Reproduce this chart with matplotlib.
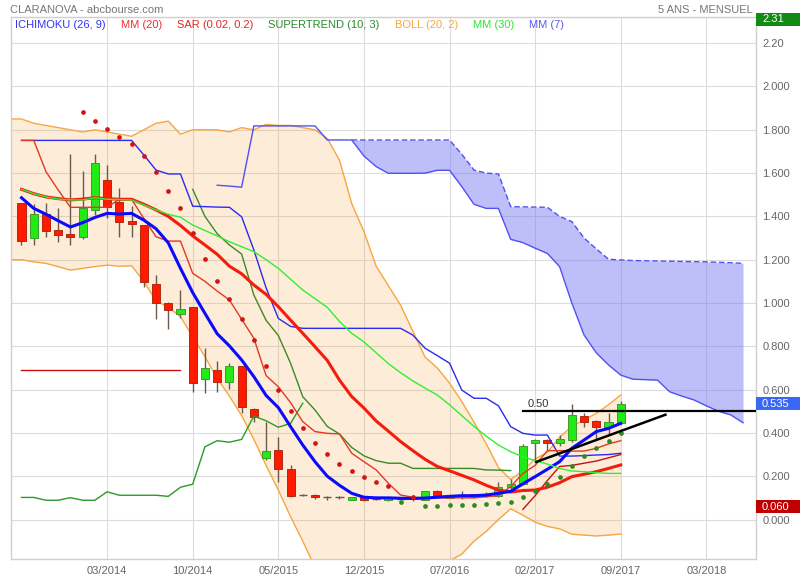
import numpy as np
import matplotlib.pyplot as plt
import matplotlib.transforms as mtransforms
from matplotlib.patches import Rectangle

plt.rcParams['font.family'] = ['Liberation Sans', 'DejaVu Sans']

# monthly candles, Aug 2013 (index 0) .. Sep 2017 (index 49)
opens = [1.46, 1.30, 1.41, 1.337, 1.319, 1.306, 1.428, 1.568, 1.468, 1.379,
         1.36, 1.086, 0.999, 0.948, 0.98, 0.647, 0.69, 0.637, 0.708, 0.509,
         0.283, 0.321, 0.232, 0.113, 0.113, 0.104, 0.104, 0.089, 0.104, 0.093,
         0.09, 0.097, 0.099, 0.089, 0.13, 0.10, 0.11, 0.117, 0.11, 0.107,
         0.149, 0.164, 0.352, 0.367, 0.355, 0.367, 0.478, 0.454, 0.426, 0.447]
highs = [1.462, 1.456, 1.46, 1.437, 1.688, 1.61, 1.688, 1.637, 1.53, 1.448,
         1.36, 1.129, 1.006, 1.06, 0.98, 0.79, 0.732, 0.721, 0.708, 0.516,
         0.452, 0.38, 0.252, 0.118, 0.116, 0.11, 0.108, 0.104, 0.104, 0.097,
         0.106, 0.104, 0.112, 0.13, 0.135, 0.11, 0.13, 0.12, 0.125, 0.175,
         0.186, 0.349, 0.37, 0.37, 0.39, 0.533, 0.493, 0.46, 0.49, 0.549]
lows = [1.268, 1.268, 1.303, 1.283, 1.268, 1.294, 1.406, 1.391, 1.303, 1.303,
        1.072, 0.925, 0.881, 0.929, 0.59, 0.583, 0.59, 0.604, 0.492, 0.452,
        0.275, 0.175, 0.105, 0.108, 0.095, 0.09, 0.097, 0.089, 0.085, 0.088,
        0.087, 0.088, 0.085, 0.088, 0.108, 0.098, 0.094, 0.10, 0.105, 0.105,
        0.14, 0.16, 0.267, 0.321, 0.34, 0.36, 0.429, 0.367, 0.39, 0.44]
closes = [1.288, 1.41, 1.334, 1.315, 1.306, 1.44, 1.645, 1.445, 1.376, 1.366,
          1.098, 0.999, 0.968, 0.971, 0.629, 0.698, 0.637, 0.708, 0.518, 0.472,
          0.318, 0.232, 0.11, 0.113, 0.104, 0.104, 0.104, 0.104, 0.089, 0.093,
          0.104, 0.097, 0.099, 0.13, 0.11, 0.11, 0.11, 0.105, 0.12, 0.149,
          0.164, 0.339, 0.367, 0.355, 0.37, 0.483, 0.452, 0.426, 0.45, 0.535]

mm7 = [1.486, 1.437, 1.41, 1.38, 1.351, 1.371, 1.395, 1.414, 1.411, 1.414,
       1.383, 1.343, 1.278, 1.16, 1.048, 0.952, 0.858, 0.802, 0.737, 0.66,
       0.573, 0.517, 0.429, 0.344, 0.267, 0.2, 0.158, 0.121, 0.103, 0.1,
       0.1, 0.098, 0.097, 0.099, 0.103, 0.107, 0.11, 0.11, 0.113, 0.121,
       0.13, 0.165, 0.198, 0.232, 0.267, 0.329, 0.367, 0.406, 0.421, 0.444]
mm20 = [1.525, 1.505, 1.49, 1.482, 1.476, 1.48, 1.486, 1.482, 1.479, 1.479,
        1.456, 1.43, 1.40, 1.358, 1.31, 1.268, 1.225, 1.17, 1.135, 1.083,
        1.04, 0.983, 0.921, 0.86, 0.798, 0.735, 0.644, 0.568, 0.515, 0.455,
        0.408, 0.36, 0.318, 0.278, 0.245, 0.225, 0.204, 0.183, 0.158, 0.136,
        0.127, 0.134, 0.136, 0.149, 0.17, 0.198, 0.209, 0.221, 0.236, 0.252]
mm30 = [1.525, 1.505, 1.49, 1.48, 1.476, 1.476, 1.486, 1.479, 1.478, 1.476,
        1.453, 1.43, 1.41, 1.396, 1.36, 1.335, 1.31, 1.283, 1.26, 1.237,
        1.20, 1.16, 1.11, 1.06, 1.02, 0.98, 0.915, 0.86, 0.82, 0.77,
        0.72, 0.678, 0.64, 0.607, 0.575, 0.53, 0.48, 0.43, 0.385, 0.344,
        0.313, 0.29, 0.272, 0.256, 0.236, 0.224, 0.221, 0.216, 0.213, 0.213]

# Bollinger (20, 2), Jul 2013 (index -1) .. Sep 2017
boll_upper = [1.85, 1.85, 1.83, 1.82, 1.81, 1.80, 1.79, 1.80, 1.79, 1.78, 1.77,
              1.80, 1.83, 1.84, 1.78, 1.80, 1.80, 1.80, 1.79, 1.81, 1.80,
              1.825, 1.82, 1.82, 1.81, 1.80, 1.76, 1.66, 1.46, 1.33, 1.17,
              1.08, 0.99, 0.87, 0.75, 0.70, 0.63, 0.545, 0.45, 0.35, 0.24,
              0.185, 0.225, 0.28, 0.31, 0.38, 0.43, 0.46, 0.49, 0.53, 0.575]
boll_lower = [1.20, 1.20, 1.19, 1.183, 1.168, 1.152, 1.16, 1.168, 1.175, 1.17, 1.172,
              1.10, 1.01, 0.98, 0.937, 0.844, 0.752, 0.652, 0.57, 0.48, 0.37,
              0.25, 0.136, 0.013, -0.10, -0.22, -0.30, -0.35, -0.38, -0.40, -0.40,
              -0.38, -0.35, -0.32, -0.28, -0.24, -0.19, -0.16, -0.10, -0.055, 0.0,
              0.05, 0.02, -0.012, -0.032, -0.043, -0.068, -0.072, -0.076, -0.072, -0.067]

# Ichimoku (26, 9)
tenkan = [1.751, 1.751, 1.607, 1.522, 1.442, 1.442, 1.442, 1.442, 1.479, 1.479,
          1.391, 1.306, 1.286, 1.286, 1.137, 1.10, 1.055, 1.014, 0.925, 0.837,
          0.665, 0.613, 0.54, 0.452, 0.406, 0.398, 0.395, 0.306, 0.267, 0.229,
          0.167, 0.113, 0.103, 0.10, 0.10, 0.10, 0.10, 0.10, 0.105, 0.11,
          0.152, 0.213, 0.25, 0.318, 0.318, 0.316, 0.316, 0.329, 0.349, 0.364]
kijun = [1.751, 1.751, 1.751, 1.751, 1.751, 1.751, 1.751, 1.751, 1.751, 1.751,
         1.684, 1.614, 1.596, 1.596, 1.447, 1.445, 1.443, 1.442, 1.398, 1.245,
         1.07, 0.929, 0.892, 0.883, 0.883, 0.883, 0.883, 0.883, 0.883, 0.883,
         0.883, 0.883, 0.852, 0.791, 0.757, 0.722, 0.598, 0.56, 0.56, 0.525,
         0.429, 0.398, 0.39, 0.39, 0.293, 0.293, 0.295, 0.298, 0.30, 0.306]
chikou = [0.102, 0.102, 0.089, 0.089, 0.101, 0.089, 0.089, 0.128, 0.112, 0.112,
          0.112, 0.112, 0.107, 0.149, 0.163, 0.336, 0.364, 0.357, 0.37, 0.478,
          0.456, 0.426, 0.444, 0.537]
senkou_start = 16
senkou_solid = [1.544, 1.54, 1.535, 1.818, 1.818, 1.818, 1.818, 1.818, 1.818, 1.753,
                1.753, 1.753, 1.679, 1.63, 1.599, 1.599, 1.599, 1.60, 1.613, 1.613,
                1.538, 1.456, 1.437, 1.437, 1.294, 1.279, 1.253, 1.229, 1.168, 1.0,
                0.852, 0.77, 0.714, 0.667, 0.648, 0.646, 0.644, 0.59, 0.57, 0.552,
                0.525, 0.50, 0.483, 0.447]
cloud_start = 27
senkou_dashed = [1.753, 1.753, 1.753, 1.753, 1.753, 1.753, 1.753, 1.753, 1.753,
                 1.687, 1.614, 1.60, 1.596, 1.445, 1.444, 1.443, 1.442, 1.40, 1.376,
                 1.30, 1.25, 1.202, 1.199, 1.196, 1.195, 1.194, 1.193, 1.192, 1.191,
                 1.19, 1.188, 1.186, 1.183]

# Supertrend (10, 3): red while below price, green while above
st_up1_idx = list(range(0, 14))
st_up1 = [0.69] * 14
st_down_idx = list(range(14, 41))
st_down = [1.525, 1.40, 1.32, 1.268, 1.226, 1.037, 0.92, 0.85, 0.722, 0.567,
           0.506, 0.43, 0.395, 0.333, 0.294, 0.272, 0.26, 0.26, 0.236, 0.236,
           0.236, 0.236, 0.236, 0.236, 0.229, 0.228, 0.226]
st_up2_idx = list(range(41, 50))
st_up2 = [0.047, 0.11, 0.18, 0.245, 0.25, 0.26, 0.27, 0.285, 0.30]

# Parabolic SAR (0.02, 0.2) from index 5
sar_start = 5
sar = [1.882, 1.84, 1.804, 1.768, 1.736, 1.68, 1.607, 1.519, 1.44, 1.325,
       1.205, 1.103, 1.02, 0.928, 0.83, 0.71, 0.60, 0.502, 0.424, 0.353,
       0.304, 0.258, 0.224, 0.198, 0.175, 0.156, 0.082, 0.105, 0.062, 0.064,
       0.067, 0.067, 0.067, 0.072, 0.078, 0.082, 0.105, 0.133, 0.165, 0.196,
       0.247, 0.293, 0.33, 0.363, 0.398]

# drawn lines
level_value = 0.50
level_start = 41
trend_x = [42.0, 52.75]
trend_y = [0.264, 0.486]

tick_pos = [7, 14, 21, 28, 35, 42, 49, 56]
tick_labels = ['03/2014', '10/2014', '05/2015', '12/2015', '07/2016', '02/2017', '09/2017', '03/2018']
ytick_vals = [0.0, 0.2, 0.4, 0.6, 0.8, 1.0, 1.2, 1.4, 1.6, 1.8, 2.0, 2.2]

legend_labels = ['ICHIMOKU (26, 9)', 'MM (20)', 'SAR (0.02, 0.2)', 'SUPERTREND (10, 3)',
                 'BOLL (20, 2)', 'MM (30)', 'MM (7)']
legend_colors = ['#3535f0', '#f03030', '#e02828', '#2a8a2a', '#f5a742', '#2ee62e', '#5a5af5']

price_tags = [2.31, 0.535, 0.060]
price_tag_text = ['2.31', '0.535', '0.060']
price_tag_colors = ['#138a13', '#3a68f5', '#c00000']

W, H = 800, 580
fig = plt.figure(figsize=(W / 100, H / 100), dpi=100)
ax = fig.add_axes([10.7 / W, (H - 559) / H, (756 - 10.7) / W, (559 - 17.3) / H])
ax.set_xlim(-0.883, 60.06)
ax.set_ylim(-0.1824, 2.3196)

idx = np.arange(len(closes))
bx = np.arange(-1, len(boll_upper) - 1)

# Bollinger band
ax.fill_between(bx, boll_lower, boll_upper, color='#f5a03c', alpha=0.2, lw=0, zorder=1)
ax.plot(bx, boll_upper, color='#f7a640', lw=1, zorder=2)
ax.plot(bx, boll_lower, color='#f7a640', lw=1, zorder=2)

# Ichimoku cloud
sx = np.arange(senkou_start, senkou_start + len(senkou_solid))
dx = np.arange(cloud_start, cloud_start + len(senkou_dashed))
solid_arr = np.array(senkou_solid)
ax.fill_between(dx, solid_arr[cloud_start - senkou_start:], senkou_dashed,
                color='#7070f0', alpha=0.45, lw=0, zorder=1)
ax.plot(sx, senkou_solid, color='#5050f5', lw=1, zorder=2)
ax.plot(dx, senkou_dashed, color='#5050f5', lw=1, ls=(0, (4, 2)), zorder=2)

# candles
o = np.array(opens); c = np.array(closes); hi = np.array(highs); lo = np.array(lows)
up = c > o
dn = c < o
dj = c == o
wick = '#6e5a4a'
ax.vlines(idx, lo, hi, color=wick, lw=1, zorder=3)
ax.bar(idx[up], (c - o)[up], bottom=o[up], width=0.66, color='#22ea16',
       edgecolor='#3f9a2a', lw=0.7, zorder=3)
ax.bar(idx[dn], (o - c)[dn], bottom=c[dn], width=0.66, color='#ff1a00',
       edgecolor='#b02a10', lw=0.7, zorder=3)
ax.hlines(o[dj], idx[dj] - 0.33, idx[dj] + 0.33, color=wick, lw=1, zorder=3)

# indicator lines
ax.plot(np.arange(len(chikou)), chikou, color='#2a9a2a', lw=1, zorder=4)
ax.plot(st_up1_idx, st_up1, color='#c81010', lw=1, zorder=4)
ax.plot(st_down_idx, st_down, color='#3d8a24', lw=1, zorder=4)
ax.plot(st_up2_idx, st_up2, color='#c81010', lw=1, zorder=4)
ax.plot(idx, kijun, color='#2b2bf0', lw=1, zorder=4)
ax.plot(idx, tenkan, color='#e23a22', lw=1, zorder=4)
ax.plot(idx, mm20, color='#f41c0c', lw=2.2, zorder=5)
ax.plot(idx, mm30, color='#2ef02e', lw=1, zorder=5.5)
ax.plot(idx, mm7, color='#0a0aff', lw=2.2, zorder=5)

# SAR dots
sar_x = np.arange(sar_start, sar_start + len(sar))
sar_arr = np.array(sar)
close_at = c[sar_x]
above = sar_arr > close_at
ax.plot(sar_x[above], sar_arr[above], 'o', color='#d41414', ms=3.4, mew=0, zorder=6)
ax.plot(sar_x[~above], sar_arr[~above], 'o', color='#2e8b1e', ms=3.4, mew=0, zorder=6)

# user drawn lines
ax.plot([level_start, 62], [level_value, level_value], color='black', lw=1.6, zorder=7)
ax.text(level_start + 0.4, level_value + 0.012, '%.2f' % level_value, fontsize=8,
        color='#333333', va='bottom', ha='left', zorder=7)
ax.plot(trend_x, trend_y, color='black', lw=1.8, zorder=7, solid_capstyle='butt')

# axes styling
ax.set_xticks(tick_pos)
ax.set_xticklabels(tick_labels)
ax.set_yticks(ytick_vals)
ax.set_yticklabels(['%.2f' % v if v > 2.1 else '%.3f' % v for v in ytick_vals])
ax.yaxis.tick_right()
ax.tick_params(axis='both', length=0, labelsize=8, labelcolor='#666666')
ax.tick_params(axis='x', pad=5)
ax.tick_params(axis='y', pad=4.5)
ax.grid(True, color='#dcdcdc', lw=0.8)
ax.set_axisbelow(True)
for sp in ax.spines.values():
    sp.set_color('#cfcfcf')
    sp.set_linewidth(1)

# price tags on the right axis
trans = mtransforms.blended_transform_factory(ax.transAxes, ax.transData)
box_w = 44 / (756 - 10.7)
box_h = 13 / 216.5
for val, txt, col in zip(price_tags, price_tag_text, price_tag_colors):
    ax.add_patch(Rectangle((1.0, val - box_h / 2), box_w, box_h, transform=trans,
                           facecolor=col, edgecolor='none', clip_on=False, zorder=8))
    ax.text(1.0 + 6 / (756 - 10.7), val, txt, transform=trans, color='white',
            fontsize=8, va='center', ha='left', clip_on=False, zorder=9)

# header texts
fig.text(10 / W, 1 - 10 / H, 'CLARANOVA - abcbourse.com', fontsize=8, color='#777777', va='center')
fig.text(753 / W, 1 - 10 / H, '5 ANS - MENSUEL', fontsize=8, color='#777777', va='center', ha='right')

renderer = fig.canvas.get_renderer()
xpos = 15
for lab, col in zip(legend_labels, legend_colors):
    t = fig.text(xpos / W, 1 - 25 / H, lab, fontsize=8, color=col, va='center', ha='left')
    xpos += t.get_window_extent(renderer).width + 15

fig.savefig('out.png', dpi=100)
